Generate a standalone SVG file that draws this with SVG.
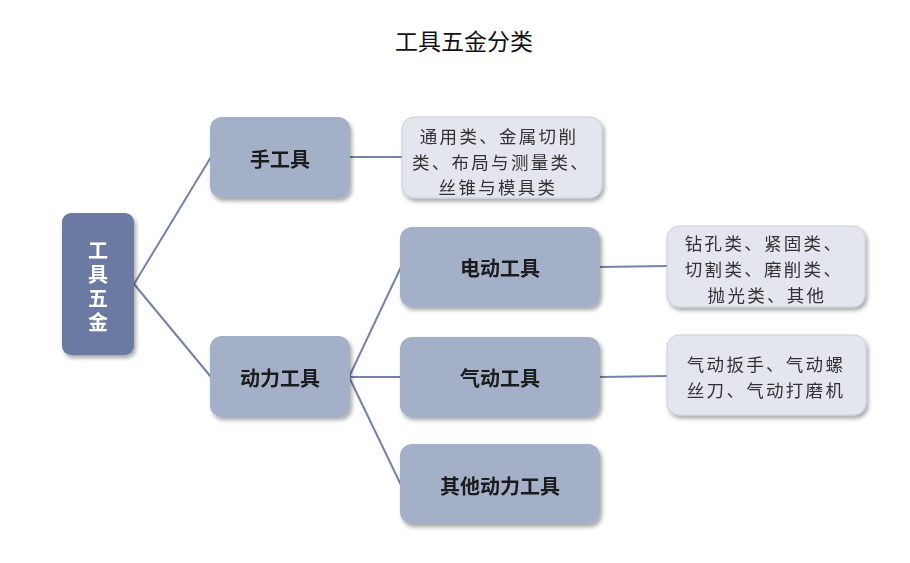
<svg xmlns="http://www.w3.org/2000/svg" width="910" height="563" viewBox="0 0 910 563">
<defs>
<filter id="sh" x="-10%" y="-10%" width="125%" height="130%">
<feGaussianBlur in="SourceAlpha" stdDeviation="2"/>
<feOffset dx="2" dy="3" result="b"/>
<feComponentTransfer><feFuncA type="linear" slope="0.35"/></feComponentTransfer>
<feMerge><feMergeNode/><feMergeNode in="SourceGraphic"/></feMerge>
</filter>
<style>
text{font-family:"Noto Sans CJK SC","Liberation Sans",sans-serif;text-anchor:middle;dominant-baseline:central}
.title{font-size:23px;fill:#111}
.root rect{fill:#6a7aa2}
.root text{fill:#fff;font-size:20px;font-weight:bold;writing-mode:vertical-rl;letter-spacing:4px}
.mid rect{fill:#a4b0c8}
.mid text{fill:#1a1a1a;font-size:20px;font-weight:bold}
.leaf rect{fill:#e3e6ee;stroke:#c9cedb;stroke-width:1}
.leaf text{fill:#333;font-size:17.5px;letter-spacing:2.3px}
.conn line{stroke:#7383a8;stroke-width:2}
</style>
</defs>
<rect width="910" height="563" fill="#fff"/>
<text class="title" x="464" y="40">工具五金分类</text>
<g class="conn">
<line x1="134" y1="284" x2="211" y2="157"/>
<line x1="134" y1="284" x2="211" y2="377"/>
<line x1="349" y1="157" x2="403" y2="157"/>
<line x1="349" y1="377" x2="401" y2="267"/>
<line x1="349" y1="377" x2="401" y2="377"/>
<line x1="349" y1="377" x2="401" y2="485"/>
<line x1="599" y1="267" x2="668" y2="266"/>
<line x1="599" y1="377" x2="668" y2="376"/>
</g>
<g id="root" class="root" filter="url(#sh)">
<rect x="62" y="213" width="72" height="142" rx="9"/>
<text x="98" y="288">工具五金</text>
</g>
<g id="n-hand" class="mid" filter="url(#sh)">
<rect x="210" y="117" width="140" height="81" rx="12"/>
<text x="280" y="158">手工具</text>
</g>
<g id="n-power" class="mid" filter="url(#sh)">
<rect x="210" y="336" width="140" height="81" rx="12"/>
<text x="280" y="377">动力工具</text>
</g>
<g id="n-electric" class="mid" filter="url(#sh)">
<rect x="400" y="227" width="200" height="80" rx="12"/>
<text x="500" y="267">电动工具</text>
</g>
<g id="n-pneumatic" class="mid" filter="url(#sh)">
<rect x="400" y="337" width="200" height="80" rx="12"/>
<text x="500" y="377">气动工具</text>
</g>
<g id="n-other" class="mid" filter="url(#sh)">
<rect x="400" y="444" width="200" height="80" rx="12"/>
<text x="500" y="485">其他动力工具</text>
</g>
<g id="l-hand" class="leaf" filter="url(#sh)">
<rect x="402" y="117" width="200" height="81" rx="12"/>
<text x="499" y="135">通用类、金属切削<tspan x="501" dy="25.5">类、布局与测量类、</tspan><tspan x="498" dy="25.5">丝锥与模具类</tspan></text>
</g>
<g id="l-electric" class="leaf" filter="url(#sh)">
<rect x="667" y="226" width="198" height="81" rx="12"/>
<text x="764" y="242">钻孔类、紧固类、<tspan x="764" dy="26">切割类、磨削类、</tspan><tspan x="767" dy="26">抛光类、其他</tspan></text>
</g>
<g id="l-pneumatic" class="leaf" filter="url(#sh)">
<rect x="667" y="335" width="199" height="80" rx="12"/>
<text x="766" y="363">气动扳手、气动螺<tspan x="766" dy="26">丝刀、气动打磨机</tspan></text>
</g>
</svg>
